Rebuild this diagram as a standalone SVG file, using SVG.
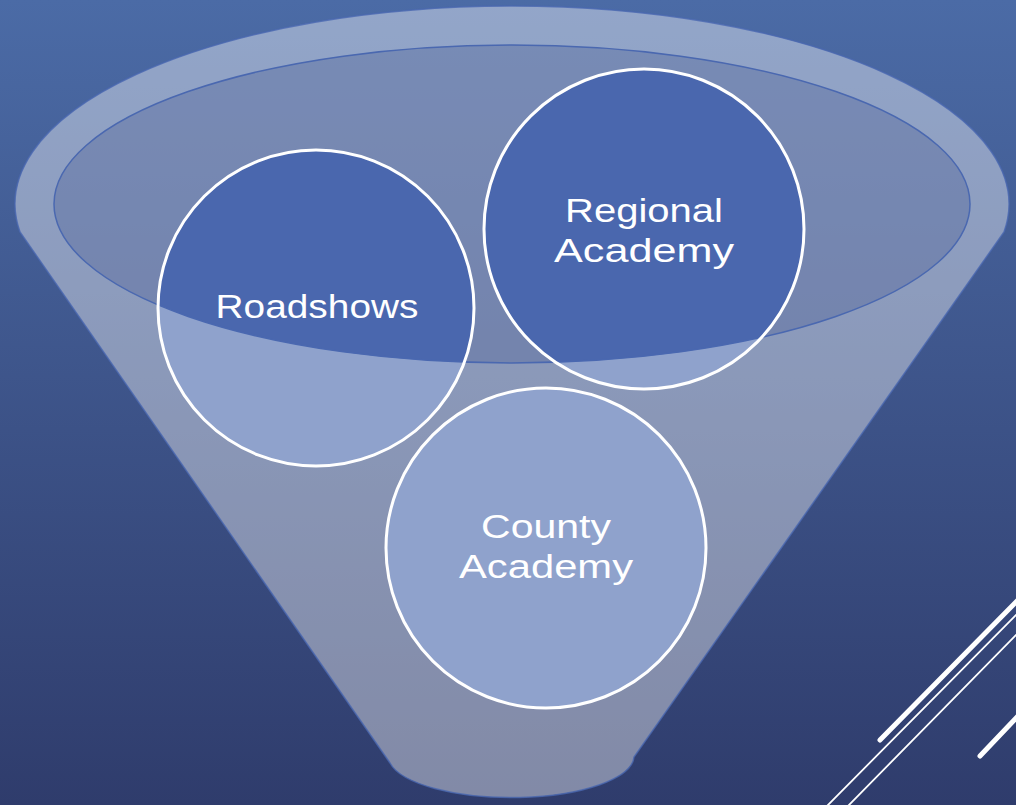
<svg xmlns="http://www.w3.org/2000/svg" width="1016" height="805" viewBox="0 0 1016 805">
<defs>
<linearGradient id="bg" x1="0" y1="0" x2="0" y2="1">
<stop offset="0" stop-color="#4b6ba6"/>
<stop offset="1" stop-color="#2f3c6c"/>
</linearGradient>
<clipPath id="inner"><ellipse cx="512" cy="204" rx="458" ry="159"/></clipPath>
<style>
.circ{fill:#8fa2cc}
.dark{fill:#4a67ae}
.ring{fill:none;stroke:#ffffff;stroke-width:3}
.lbl{font-family:"Liberation Sans","DejaVu Sans",sans-serif;font-size:33px;fill:#ffffff;text-anchor:middle}
.deco{stroke:#ffffff;fill:none;stroke-linecap:round}
</style>
</defs>
<rect width="1016" height="805" fill="url(#bg)"/>
<g id="funnel">
<path d="M20,232 A497,198 0 1 1 1004,232 L634,757 A123,42 0 0 1 390,763 Z" fill="#ffffff" fill-opacity="0.4" stroke="#4a68b0" stroke-width="1.5" stroke-opacity="0.8"/>
<ellipse cx="512" cy="204" rx="458" ry="159" fill="#4a5e96" fill-opacity="0.36"/>
</g>
<g id="roadshows">
<circle class="circ" cx="316" cy="308" r="158"/>
<circle class="dark" cx="316" cy="308" r="158" clip-path="url(#inner)"/>
</g>
<g id="regional">
<circle class="circ" cx="644" cy="229" r="160"/>
<circle class="dark" cx="644" cy="229" r="160" clip-path="url(#inner)"/>
</g>
<g id="county">
<circle class="circ" cx="546" cy="548" r="160"/>
</g>
<ellipse cx="512" cy="204" rx="458" ry="159" fill="none" stroke="#4a68b0" stroke-width="1.5"/>
<circle class="ring" cx="316" cy="308" r="158"/>
<circle class="ring" cx="644" cy="229" r="160"/>
<circle class="ring" cx="546" cy="548" r="160"/>
<text class="lbl" x="317" y="318" textLength="203" lengthAdjust="spacingAndGlyphs">Roadshows</text>
<text class="lbl" x="644" y="222" textLength="158" lengthAdjust="spacingAndGlyphs">Regional</text>
<text class="lbl" x="644" y="262" textLength="180" lengthAdjust="spacingAndGlyphs">Academy</text>
<text class="lbl" x="546" y="538" textLength="130" lengthAdjust="spacingAndGlyphs">County</text>
<text class="lbl" x="546" y="578" textLength="174" lengthAdjust="spacingAndGlyphs">Academy</text>
<g id="decor">
<line class="deco" x1="880" y1="740" x2="1018" y2="600" stroke-width="5"/>
<line class="deco" x1="827" y1="806" x2="1018" y2="613" stroke-width="1.8"/>
<line class="deco" x1="848" y1="806" x2="1018" y2="633" stroke-width="1.8"/>
<line class="deco" x1="980" y1="756" x2="1018" y2="716" stroke-width="5"/>
</g>
</svg>
